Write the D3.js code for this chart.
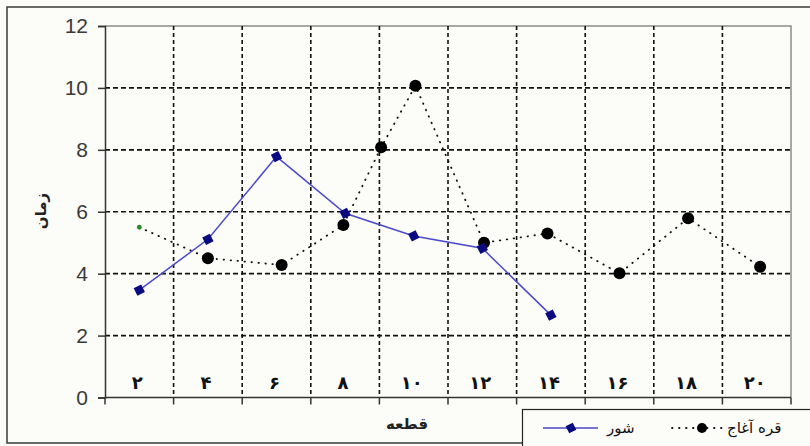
<!DOCTYPE html>
<html><head><meta charset="utf-8">
<script src="https://cdn.jsdelivr.net/npm/d3@7"></script>
<style>
html,body{margin:0;padding:0;background:#fcfcf8;overflow:hidden;}
svg{display:block;}
</style></head>
<body>
<svg id="c" width="810" height="446"></svg>
<script>
// ---- data ----
const categories = ["۲","۴","۶","۸","۱۰","۱۲","۱۴","۱۶","۱۸","۲۰"];
const categoryValues = [2,4,6,8,10,12,14,16,18,20];
const yTicks = [0,2,4,6,8,10,12];
// series "شور" (blue)
const shurX = [2,4,6,8,10,12,14];
const shurY = [3.47,5.11,7.78,5.95,5.22,4.82,2.66];
// series "قره آغاج" (black dotted)
const qarehX = [2,4,6.15,7.95,9.05,10.05,12.05,13.9,16,18,20.1];
const qarehY = [5.5,4.5,4.28,5.57,8.08,10.07,5.0,5.3,4.01,5.79,4.22];
const seriesNames = ["شور","قره آغاج"];
const yTitle = "زمان";
const xTitle = "قطعه";

const svg = d3.select("#c");
const L=105, R=791, T=26, B=397.5;

const x = d3.scaleLinear().domain([1,21]).range([L,R]);
const y = d3.scaleLinear().domain([0,12]).range([B,T]);

// outer border
svg.append("rect").attr("x",7).attr("y",7).attr("width",830).attr("height",436)
  .attr("fill","#fcfcf8").attr("stroke","#3a3a3a").attr("stroke-width",1.5);

// plot area border (top/right gray)
svg.append("path").attr("d",`M${L},${T}H${R}V${B}`).attr("fill","none").attr("stroke","#8a8a8a").attr("stroke-width",1.5);

// horizontal gridlines
svg.append("g").selectAll("line").data(yTicks.filter(d=>d>0&&d<12)).join("line")
  .attr("x1",L).attr("x2",R).attr("y1",d=>y(d)).attr("y2",d=>y(d))
  .attr("stroke","#111").attr("stroke-width",1.6).attr("stroke-dasharray","5,3");

// vertical gridlines at category boundaries
const bounds = d3.range(1,10).map(i=>x(1+2*i));
svg.append("g").selectAll("line").data(bounds).join("line")
  .attr("x1",d=>d).attr("x2",d=>d).attr("y1",T).attr("y2",B)
  .attr("stroke","#111").attr("stroke-width",1.6).attr("stroke-dasharray","4,3");

// y axis
const yAxis = d3.axisLeft(y).tickValues(yTicks).tickSize(7).tickPadding(10).tickFormat(d3.format("d"));
const gy = svg.append("g").attr("transform",`translate(${L},0)`).call(yAxis);
gy.select(".domain").attr("stroke","#333").attr("stroke-width",1.5);
gy.selectAll(".tick line").attr("stroke","#333").attr("stroke-width",1.5);
gy.selectAll(".tick text").attr("font-family","Liberation Sans Narrow, Liberation Sans, Arial, sans-serif").attr("font-size",21).attr("fill","#3a3a3a");

// x axis line and ticks at boundaries
svg.append("line").attr("x1",L).attr("x2",R).attr("y1",B).attr("y2",B).attr("stroke","#333").attr("stroke-width",1.5);
svg.append("g").selectAll("line").data([L,...bounds,R]).join("line")
  .attr("x1",d=>d).attr("x2",d=>d).attr("y1",B).attr("y2",B+7)
  .attr("stroke","#333").attr("stroke-width",1.5);

// x labels (inside plot)
svg.append("g").selectAll("text").data(categories).join("text")
  .attr("x",(d,i)=>x(categoryValues[i])-2).attr("y",383).attr("dy","0.35em")
  .attr("text-anchor","middle").attr("font-family","DejaVu Sans, sans-serif").attr("font-weight","bold")
  .attr("font-size",18).attr("fill","#111").text(d=>d);

// titles
svg.append("text").attr("transform","translate(41,211) rotate(-90)").attr("text-anchor","middle")
  .attr("dy","0.35em").attr("font-family","DejaVu Sans, sans-serif").attr("font-weight","bold").attr("font-size",15).attr("fill","#222").text(yTitle);
svg.append("text").attr("x",407).attr("y",424).attr("text-anchor","middle").attr("dy","0.35em")
  .attr("font-family","DejaVu Sans, sans-serif").attr("font-weight","bold").attr("font-size",15).attr("fill","#222").text(xTitle);

// qareh series (dotted)
const qData = qarehX.map((v,i)=>[v,qarehY[i]]);
svg.append("path").datum(qData).attr("fill","none").attr("stroke","#111").attr("stroke-width",1.8)
  .attr("stroke-dasharray","0.5,6.5").attr("stroke-linecap","round")
  .attr("d",d3.line().x(d=>x(d[0])).y(d=>y(d[1])));
svg.append("g").selectAll("circle").data(qData.slice(1)).join("circle")
  .attr("cx",d=>x(d[0])).attr("cy",d=>y(d[1])).attr("r",6).attr("fill","#000");
svg.append("circle").attr("cx",x(qData[0][0])).attr("cy",y(qData[0][1])).attr("r",2.4).attr("fill","#2a8a2a");

// shur series (blue)
const sData = shurX.map((v,i)=>[v,shurY[i]]);
svg.append("path").datum(sData).attr("fill","none").attr("stroke","#4a4ac8").attr("stroke-width",1.5)
  .attr("d",d3.line().x(d=>x(d[0])).y(d=>y(d[1])));
const star = d3.symbol().type(d3.symbolStar).size(70);
svg.append("g").selectAll("path").data(sData).join("path")
  .attr("transform",d=>`translate(${x(d[0])},${y(d[1])}) rotate(18)`).attr("d",d3.symbol().type(d3.symbolDiamond2).size(90)).attr("fill","#0a0a80");
svg.append("g").selectAll("path").data(sData).join("path")
  .attr("transform",d=>`translate(${x(d[0])},${y(d[1])})`).attr("d",d3.symbol().type(d3.symbolSquare).size(28)).attr("fill","#0a0a80");

// legend
const lg = svg.append("g");
lg.append("rect").attr("x",522.5).attr("y",409.5).attr("width",320).attr("height",60)
  .attr("fill","#fcfcf8").attr("stroke","#222").attr("stroke-width",1.2);
lg.append("line").attr("x1",543).attr("x2",598).attr("y1",428).attr("y2",428).attr("stroke","#4a4ac8").attr("stroke-width",1.5);
lg.append("path").attr("transform","translate(571,428) rotate(18)").attr("d",d3.symbol().type(d3.symbolDiamond2).size(80)).attr("fill","#0a0a80");
lg.append("path").attr("transform","translate(571,428)").attr("d",d3.symbol().type(d3.symbolSquare).size(24)).attr("fill","#0a0a80");
lg.append("text").attr("x",607).attr("y",428).attr("dy","0.35em").attr("font-family","DejaVu Sans, sans-serif")
  .attr("font-size",15).attr("fill","#111").text(seriesNames[0]);
lg.append("line").attr("x1",672).attr("x2",723).attr("y1",428).attr("y2",428).attr("stroke","#111").attr("stroke-width",1.8)
  .attr("stroke-dasharray","0.5,6.5").attr("stroke-linecap","round");
lg.append("circle").attr("cx",702).attr("cy",428).attr("r",5).attr("fill","#000");
lg.append("text").attr("x",727).attr("y",428).attr("dy","0.35em").attr("font-family","DejaVu Sans, sans-serif")
  .attr("font-size",15).attr("fill","#111").text(seriesNames[1]);
</script>
</body></html>
